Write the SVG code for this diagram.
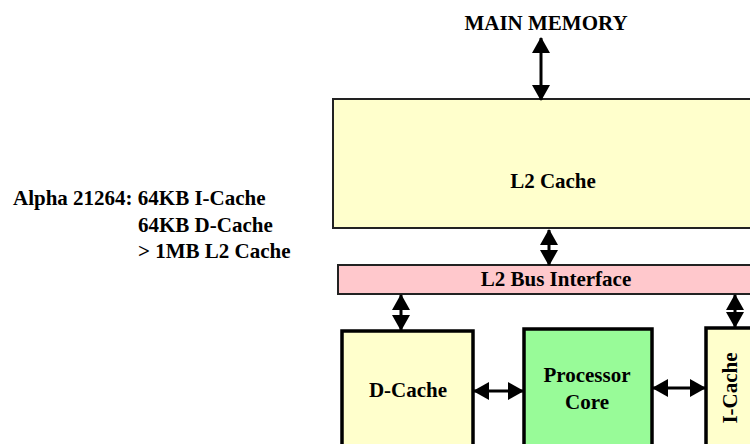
<svg xmlns="http://www.w3.org/2000/svg" width="750" height="444" viewBox="0 0 750 444">
<style>
text{font-family:"Liberation Serif","Times New Roman",serif;font-weight:bold;font-size:21px;fill:#000}
.c{text-anchor:middle}
.thin{stroke:#222;stroke-width:2}
.thick{stroke:#000;stroke-width:3.5}
.conn{stroke:#000;stroke-width:3;fill:none;marker-start:url(#ah);marker-end:url(#ah)}
</style>
<defs>
<marker id="ah" markerUnits="userSpaceOnUse" markerWidth="16" markerHeight="18" viewBox="0 0 16 18" refX="15" refY="9" orient="auto-start-reverse">
<path d="M0,0 L16,9 L0,18 Z" fill="#000"/>
</marker>
</defs>
<g id="note">
<text x="13" y="205">Alpha 21264: 64KB I-Cache</text>
<text x="138" y="232">64KB D-Cache</text>
<text x="138" y="258">&gt; 1MB L2 Cache</text>
</g>
<g id="main-memory"><text class="c" x="546" y="30">MAIN MEMORY</text></g>
<g id="l2-cache">
<rect class="thin" x="333" y="99" width="430" height="129" fill="#FFFFCC"/>
<text class="c" x="553" y="188">L2 Cache</text>
</g>
<g id="l2-bus">
<rect class="thin" x="338" y="265" width="425" height="29" fill="#FFC8CC"/>
<text class="c" x="556" y="286">L2 Bus Interface</text>
</g>
<g id="d-cache">
<rect class="thick" x="342" y="331" width="131" height="130" fill="#FFFFCC"/>
<text class="c" x="408" y="397">D-Cache</text>
</g>
<g id="core">
<rect class="thick" x="524" y="329" width="128" height="130" fill="#98FB98"/>
<text class="c" x="587" y="382">Processor</text>
<text class="c" x="587" y="409">Core</text>
</g>
<g id="i-cache">
<rect class="thick" x="706" y="328" width="60" height="130" fill="#FFFFCC"/>
<text class="c" transform="translate(737,388) rotate(-90)">I-Cache</text>
</g>
<g id="connectors">
<line class="conn" x1="541" y1="38" x2="541" y2="100"/>
<line class="conn" x1="549" y1="230" x2="549" y2="265"/>
<line class="conn" x1="401" y1="295" x2="401" y2="330"/>
<line class="conn" x1="735" y1="295" x2="735" y2="327"/>
<line class="conn" x1="474" y1="391" x2="523" y2="391"/>
<line class="conn" x1="653" y1="388" x2="705" y2="388"/>
</g>
</svg>
